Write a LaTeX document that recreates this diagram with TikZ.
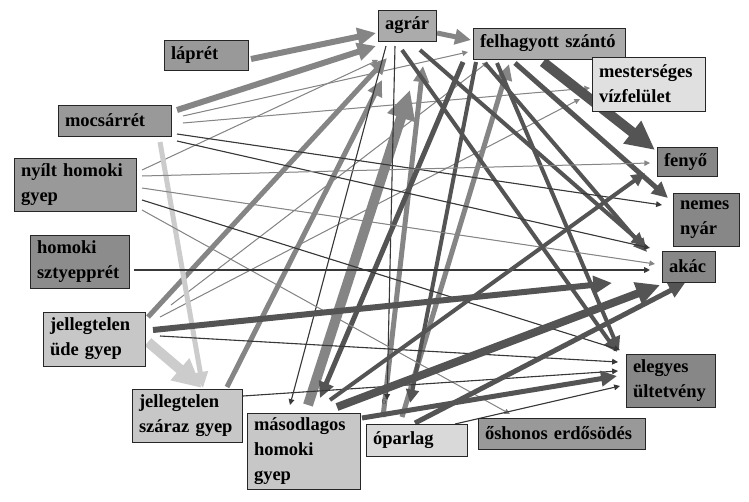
\documentclass[tikz,border=0pt]{standalone}
\usepackage{fontspec}
\setmainfont{Liberation Serif}
\usepackage{tikz}
\usetikzlibrary{arrows.meta,calc,backgrounds}
\definecolor{vilagos}{gray}{0.80}
\definecolor{kozep}{gray}{0.52}
\definecolor{sotet}{gray}{0.33}
\definecolor{vekony}{gray}{0.22}
\tikzset{
  box/.style={draw=black!85, line width=0.9pt, inner xsep=7pt, inner ysep=2pt,
    align=left, font=\bfseries\fontsize{18.5}{25}\selectfont},
  flow/.style={-{Triangle[length=3pt 2.6,width=3pt 2.4]}},
  lightflow/.style={flow, draw=vilagos, fill=vilagos},
  midflow/.style={flow, draw=kozep, fill=kozep},
  darkflow/.style={flow, draw=sotet, fill=sotet},
  thinflow/.style={flow, draw=vekony, fill=vekony, line width=1.1pt},
  thinmid/.style={flow, draw=kozep, fill=kozep, line width=1pt}
}
\begin{document}
\begin{tikzpicture}[x=1pt,y=-1pt]
\useasboundingbox (0,0) rectangle (749,501);

% boxes
\node[box, fill=black!40, minimum height=30pt, text width=70pt] (lapret) at (206,55) {láprét};
\node[box, fill=black!33, minimum height=31pt, text width=44pt] (agrar) at (407,25.5) {agrár};
\node[box, fill=black!33, minimum height=31pt, text width=138pt] (felhagy) at (549,43.5) {felhagyott szántó};
\node[box, fill=black!12, minimum height=54pt, text width=99pt] (mester) at (648.5,84) {mesterséges\\vízfelület};
\node[box, fill=black!40, minimum height=31pt, text width=99pt] (mocsar) at (114.5,120.5) {mocsárrét};
\node[box, fill=black!40, minimum height=53pt, text width=108pt] (nyilt) at (75,184.5) {nyílt homoki\\gyep};
\node[box, fill=black!45, minimum height=53pt, text width=85pt] (sztyepp) at (79.5,261.5) {homoki\\sztyepprét};
\node[box, fill=black!22, minimum height=54pt, text width=88pt] (ude) at (94,339) {jellegtelen\\üde gyep};
\node[box, fill=black!22, minimum height=53pt, text width=96pt] (szaraz) at (187,415.5) {jellegtelen\\száraz gyep};
\node[box, fill=black!22, minimum height=76pt, text width=99pt] (masod) at (303.5,451) {másodlagos\\homoki\\gyep};
\node[box, fill=black!15, minimum height=32pt, text width=87pt] (oparlag) at (416.5,440) {óparlag};
\node[box, fill=black!40, minimum height=31pt, text width=153pt] (oshonos) at (561.5,433.5) {őshonos erdősödés};
\node[box, fill=black!47, minimum height=53pt, text width=75pt] (elegyes) at (670.5,380.5) {elegyes\\ültetvény};
\node[box, fill=black!47, minimum height=31pt, text width=39pt] (akac) at (688.5,266.5) {akác};
\node[box, fill=black!47, minimum height=53pt, text width=52pt] (nemes) at (706,219.5) {nemes\\nyár};
\node[box, fill=black!47, minimum height=29pt, text width=46pt] (fenyo) at (687,161.5) {fenyő};
\node[font=\fontsize{9}{10}\selectfont, text=black!70, inner sep=0pt] (hat) at (384,402) {6};

\begin{scope}[on background layer]
\fill[white] (0,0) rectangle (749,501);
% to agrar / felhagyott szanto
\draw[midflow, line width=6pt] ($(lapret)+(45,4)$) -- ($(agrar)+(-31,7.5)$);
\draw[midflow, line width=6pt] ($(mocsar)+(62.5,-10.5)$) -- ($(agrar)+(-31,20.5)$);
\draw[thinmid] ($(mocsar)+(68.5,-4.5)$) -- ($(felhagy)+(-81,8.5)$);
\draw[thinmid] ($(mocsar)+(68.5,2.5)$) -- ($(mester)+(-58.5,4)$);
\draw[thinmid] ($(nyilt)+(67,-14.5)$) -- ($(agrar)+(-29,34.5)$);
\draw[midflow, line width=5pt] ($(ude)+(54,-22)$) -- ($(agrar)+(-20,32.5)$);
\draw[thinmid] ($(ude)+(77,-34)$) -- ($(felhagy)+(-61,18.5)$);
\draw[thinmid] ($(ude)+(66,-22)$) -- ($(mester)+(-68.5,15)$);
\draw[midflow, line width=5pt] ($(szaraz)+(40,-28.5)$) -- ($(agrar)+(-25,54.5)$);
\draw[midflow, line width=10pt] ($(masod)+(4.5,-46)$) -- ($(agrar)+(3,64.5)$);
\draw[midflow, line width=5pt] ($(oparlag)+(-33.5,-23)$) -- ($(agrar)+(16,40.5)$);
\draw[midflow, line width=5pt] ($(oparlag)+(-14.5,-23)$) -- ($(felhagy)+(-40,20.5)$);
\draw[midflow, line width=5pt] ($(agrar)+(30,7.5)$) -- ($(felhagy)+(-78,-3.5)$);
% to the grasslands
\draw[lightflow, line width=5pt] ($(mocsar)+(45.5,21.5)$) -- ($(szaraz)+(16,-27.5)$);
\draw[lightflow, line width=10pt] ($(ude)+(54,3)$) -- ($(szaraz)+(15,-27.5)$);
\draw[thinflow] ($(agrar)+(-21,20.5)$) -- ($(masod)+(-13.5,-46)$);
\draw[thinflow] ($(agrar)+(-12,20.5)$) -- ($(oparlag)+(-29.5,-40)$);
\draw[darkflow, line width=5pt] ($(felhagy)+(-86,18.5)$) -- ($(masod)+(16.5,-53)$);
\draw[darkflow, line width=4pt] ($(felhagy)+(-73,18.5)$) -- ($(oparlag)+(-6.5,-37)$);
% to the plantations
\draw[darkflow, line width=10pt] ($(felhagy)+(-6,18.5)$) -- ($(fenyo)+(-32,-11.5)$);
\draw[darkflow, line width=5pt] ($(felhagy)+(-34,19.5)$) -- ($(nemes)+(-38,-21.5)$);
\draw[darkflow, line width=4pt] ($(felhagy)+(-64,19.5)$) -- ($(akac)+(-41.5,-14.5)$);
\draw[darkflow, line width=4pt] ($(felhagy)+(-52,19.5)$) -- ($(elegyes)+(-51.5,-30.5)$);
\draw[darkflow, line width=4pt] ($(agrar)+(-5,24.5)$) -- ($(elegyes)+(-53.5,-28.5)$);
\draw[darkflow, line width=4pt] ($(agrar)+(13,24.5)$) -- ($(akac)+(-43.5,-20.5)$);
\draw[thinflow] ($(mocsar)+(62.5,13.5)$) -- ($(nemes)+(-44,-14.5)$);
\draw[thinflow] ($(mocsar)+(62.5,20.5)$) -- ($(akac)+(-38.5,-18.5)$);
\draw[thinmid] ($(nyilt)+(67,-8.5)$) -- ($(fenyo)+(-37,1.5)$);
\draw[thinmid] ($(nyilt)+(67,3.5)$) -- ($(akac)+(-33.5,-2.5)$);
\draw[thinflow] ($(nyilt)+(67,15.5)$) -- ($(elegyes)+(-50.5,-30.5)$);
\draw[thinmid] ($(nyilt)+(67,25.5)$) -- ($(oshonos)+(-51.5,-19.5)$);
\draw[thinflow] ($(sztyepp)+(54.5,8.5)$) -- ($(akac)+(-38.5,3.5)$);
\draw[darkflow, line width=6pt] ($(ude)+(59,-9)$) -- ($(akac)+(-76.5,16.5)$);
\draw[thinflow] ($(ude)+(66,-3)$) -- ($(elegyes)+(-52.5,-18.5)$);
\draw[thinflow] ($(szaraz)+(56,-19.5)$) -- ($(elegyes)+(-52.5,-9.5)$);
\draw[darkflow, line width=4pt] ($(masod)+(26.5,-51)$) -- ($(fenyo)+(-42,11.5)$);
\draw[darkflow, line width=8pt] ($(masod)+(33.5,-44)$) -- ($(akac)+(-28.5,18.5)$);
\draw[darkflow, line width=5pt] ($(masod)+(58.5,-33)$) -- ($(elegyes)+(-53.5,-4.5)$);
\draw[darkflow, line width=5pt] ($(oparlag)+(-1.5,-17)$) -- ($(akac)+(-3.5,16.5)$);
\draw[thinflow] ($(oparlag)+(38.5,-16)$) -- ($(elegyes)+(-50.5,5.5)$);
\end{scope}
\end{tikzpicture}
\end{document}
